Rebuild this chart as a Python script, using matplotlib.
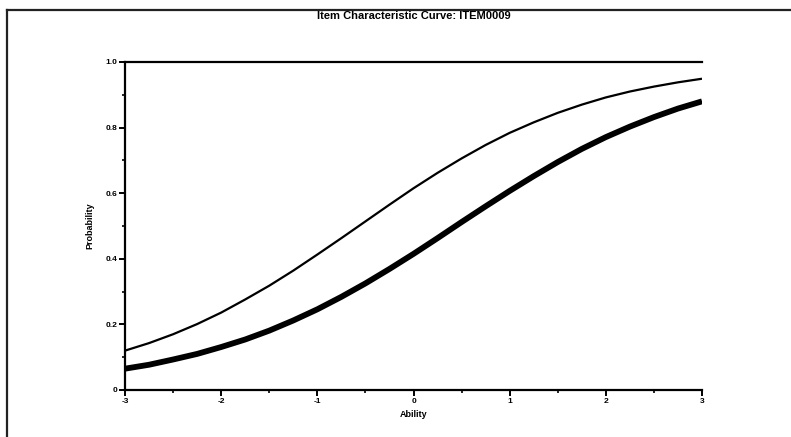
import matplotlib
matplotlib.use("Agg")
import matplotlib.pyplot as plt
from matplotlib.lines import Line2D
from matplotlib.ticker import MultipleLocator

plt.rcParams['font.family'] = ['Liberation Sans', 'DejaVu Sans']

# Ability grid and item response probabilities
ability = [-3.00, -2.75, -2.50, -2.25, -2.00, -1.75, -1.50, -1.25, -1.00,
           -0.75, -0.50, -0.25, 0.00, 0.25, 0.50, 0.75, 1.00, 1.25, 1.50,
           1.75, 2.00, 2.25, 2.50, 2.75, 3.00]
prob_upper = [0.120, 0.143, 0.170, 0.201, 0.236, 0.276, 0.318, 0.364, 0.413,
              0.463, 0.514, 0.565, 0.615, 0.662, 0.706, 0.747, 0.784, 0.816,
              0.845, 0.870, 0.892, 0.910, 0.925, 0.938, 0.949]
prob_lower = [0.065, 0.077, 0.093, 0.110, 0.131, 0.154, 0.181, 0.212, 0.246,
              0.284, 0.325, 0.369, 0.415, 0.463, 0.512, 0.560, 0.607, 0.652,
              0.695, 0.735, 0.771, 0.803, 0.832, 0.858, 0.880]

x_ticks = [-3, -2, -1, 0, 1, 2, 3]
x_tick_labels = ['-3', '-2', '-1', '0', '1', '2', '3']
y_ticks = [0, 0.2, 0.4, 0.6, 0.8, 1.0]
y_tick_labels = ['0', '0.2', '0.4', '0.6', '0.8', '1.0']
title = 'Item Characteristic Curve: ITEM0009'

W, H = 791, 437
fig = plt.figure(figsize=(W / 100, H / 100), dpi=100)
fig.patch.set_facecolor('white')

# outer frame (top and left edges)
fig.add_artist(Line2D([7 / W, 1.0], [1 - 10 / H, 1 - 10 / H], color='#222222', lw=1.6,
                      transform=fig.transFigure))
fig.add_artist(Line2D([7 / W, 7 / W], [0.0, 1 - 10 / H], color='#222222', lw=1.6,
                      transform=fig.transFigure))

ax = fig.add_axes([125 / W, 1 - 390 / H, (702 - 125) / W, (390 - 62) / H])
ax.plot(ability, prob_upper, color='black', lw=1.6, solid_capstyle='butt')
ax.plot(ability, prob_lower, color='black', lw=4.2, solid_capstyle='butt')

ax.set_xlim(-3, 3)
ax.set_ylim(0, 1)
ax.set_xticks(x_ticks)
ax.set_xticklabels(x_tick_labels)
ax.set_yticks(y_ticks)
ax.set_yticklabels(y_tick_labels)
ax.xaxis.set_minor_locator(MultipleLocator(0.5))
ax.yaxis.set_minor_locator(MultipleLocator(0.1))
ax.tick_params(which='major', direction='out', length=4, width=1.4, pad=1.5,
               labelsize=6)
ax.tick_params(which='minor', direction='out', length=2, width=1.2)
for lab in ax.get_xticklabels() + ax.get_yticklabels():
    lab.set_fontweight('bold')

for side in ['left', 'bottom', 'top']:
    ax.spines[side].set_linewidth(1.6)
ax.spines['right'].set_visible(False)

ax.set_xlabel('Ability', fontsize=6.5, fontweight='bold', labelpad=4)
ax.set_ylabel('Probability', fontsize=6.5, fontweight='bold', labelpad=8)

fig.text(413.5 / W, 1 - 16 / H, title, ha='center', va='center', fontsize=8,
         fontweight='bold')

fig.savefig('out.png', dpi=100)
